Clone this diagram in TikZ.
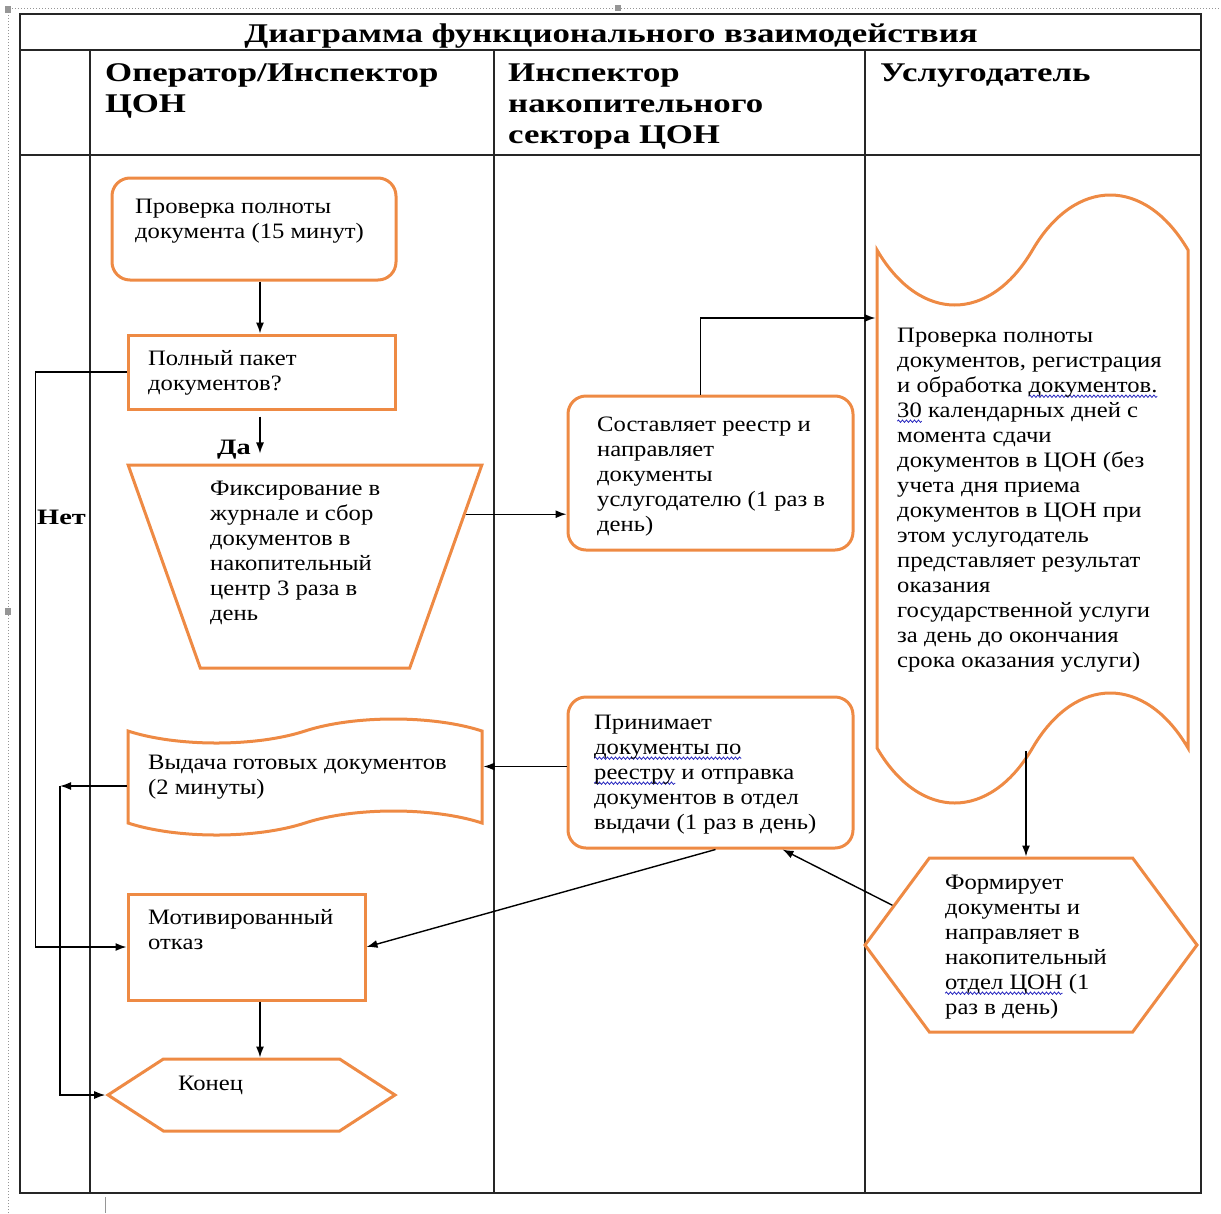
\documentclass[tikz,border=0pt]{standalone}
\usepackage{fontspec}
\setmainfont{Liberation Serif}[FakeStretch=1.12, BoldFeatures={FakeStretch=1.29}]
\usetikzlibrary{arrows.meta,shapes.geometric,shapes.symbols,decorations.pathmorphing}
\definecolor{boxorange}{RGB}{238,138,68}
\definecolor{spellblue}{RGB}{40,40,190}
\definecolor{framegray}{RGB}{150,150,150}
\newcommand\bodyfont{\fontsize{22}{25}\selectfont}
\newcommand\headfont{\fontsize{27}{31}\selectfont\bfseries}
\newcommand\titlefont{\fontsize{27}{30}\selectfont\bfseries}
\newsavebox\spellbox
\newcommand\spellmark[1]{\sbox\spellbox{#1}\rlap{\tikz[overlay, x=1pt, y=1pt]\draw[spellblue, line width=0.8pt, decorate, decoration={snake, amplitude=1.2pt, segment length=4pt}] (0,-4) -- (\the\wd\spellbox,-4);}\usebox\spellbox}
\tikzset{
  lane/.style={line width=1.6pt, black!85},
  shapeline/.style={draw=boxorange, line width=3pt, inner sep=0pt},
  plainbox/.style={shapeline, rectangle},
  roundbox/.style={shapeline, rectangle, rounded corners=18pt},
  hexbox/.style={shapeline, signal, signal to=east and west},
  tapebox/.style={shapeline, tape},
  txt/.style={anchor=north west, inner sep=0pt, align=left, font=\bodyfont},
  head/.style={anchor=north west, inner sep=0pt, align=left, font=\headfont},
  arr/.style={-{Latex[length=11pt,width=8pt]}, line width=1.4pt},
}

\begin{document}
\begin{tikzpicture}[x=1pt, y=-1pt]
\useasboundingbox (0,0) rectangle (1221,1213);
% Canvas frame
\draw[framegray, dotted, line width=1pt] (8,1213) -- (8,8) -- (1221,8);
\fill[framegray] (5,6) rectangle (11,13);
\fill[framegray] (615,5) rectangle (621,11);
\fill[framegray] (5,608) rectangle (11,615);
\draw[framegray, line width=1pt] (105,1197) -- (105,1213);
% Table
\draw[lane] (20,14) rectangle (1201,1193);
\draw[lane] (20,50) -- (1201,50);
\draw[lane] (20,155) -- (1201,155);
\draw[lane] (90,50) -- (90,1193);
\draw[lane] (494,50) -- (494,1193);
\draw[lane] (865,50) -- (865,1193);
\node[font=\titlefont, anchor=base, inner sep=0pt] (title) at (611,42) {Диаграмма функционального взаимодействия};
\node[head] (laneOper) at (105,60) {\strut Оператор/Инспектор\\ЦОН};
\node[head] (laneNak) at (508,60) {\strut Инспектор\\накопительного\\сектора ЦОН};
\node[head] (laneUsl) at (880,60) {\strut Услугодатель};

% Operator lane
\node[roundbox, minimum width=284, minimum height=102] (chk) at (254,229) {};
\node[txt] (chkText) at (135,195.5) {\strut Проверка полноты\\документа (15 минут)};
\node[plainbox, minimum width=267, minimum height=74] (full) at (261.5,372) {};
\node[txt] (fullText) at (148,347.5) {\strut Полный пакет\\документов?};
\node[shapeline, trapezium, inner sep=6pt, trapezium angle=71, shape border rotate=180,
  trapezium stretches=true, minimum width=354, minimum height=203] (fix) at (305,566.5) {};
\node[txt] (fixText) at (210,477.5) {\strut Фиксирование в\\журнале и сбор\\документов в\\накопительный\\центр 3 раза в\\день};
\node[tapebox, tape bend height=24, minimum width=354, minimum height=116] (vyd) at (305,777) {};
\node[txt] (vydText) at (148,751.5) {\strut Выдача готовых документов\\(2 минуты)};
\node[plainbox, minimum width=237, minimum height=106] (motiv) at (246.5,947) {};
\node[txt] (motivText) at (148,906.5) {\strut Мотивированный\\отказ};
\node[hexbox, signal pointer angle=66, minimum width=287, minimum height=72] (konec) at (251.5,1095) {};
\node[txt] (konecText) at (178,1072.5) {\strut Конец};

% Accumulating sector lane
\node[roundbox, minimum width=285, minimum height=154] (sost) at (710.5,473) {};
\node[txt] (sostText) at (597,413.5) {\strut Составляет реестр и\\направляет\\документы\\услугодателю (1 раз в\\день)};
\node[roundbox, minimum width=285, minimum height=151] (prin) at (710.5,772.5) {};
\node[txt] (prinText) at (594,711.5) {\strut Принимает\\\spellmark{документы по}\\\spellmark{реестру} и отправка\\документов в отдел\\выдачи (1 раз в день)};

% Service provider lane
\node[tapebox, tape bend height=110, minimum width=311, minimum height=608] (proc) at (1032.5,499) {};
\node[txt] (procText) at (897,324.5) {\strut Проверка полноты\\документов, регистрация\\и обработка \spellmark{документов.}\\\spellmark{30} календарных дней с\\момента сдачи\\документов в ЦОН (без\\учета дня приема\\документов в ЦОН при\\этом услугодатель\\представляет результат\\оказания\\государственной услуги\\за день до окончания\\срока оказания услуги)};
\node[hexbox, signal pointer angle=107, minimum width=332, minimum height=174] (form) at (1031,945) {};
\node[txt] (formText) at (945,871.5) {\strut Формирует\\документы и\\направляет в\\накопительный\\\spellmark{отдел ЦОН} (1\\раз в день)};

% Connectors
\draw[arr] (chk.south -| 260,0) -- (full.north -| 260,0);
\draw[arr, shorten <=6pt, shorten >=10pt] (full.south -| 260,0) -- (fix.north -| 260,0);
\node[font=\bodyfont\bfseries, anchor=base west, inner sep=0pt] (yes) at (217,454) {Да};
\draw[arr] (full.west) -- ++(-91,0) |- (motiv.west);
\node[font=\bodyfont\bfseries, anchor=base west, inner sep=0pt] (no) at (37,524) {Нет};
\draw[arr] (fix.18) -- (fix.18 -| sost.west);
\draw[arr] ([xshift=-10pt]sost.north) |- ([yshift=181pt]proc.west);
\draw[arr] (proc.south -| 1026,0) -- (form.north -| 1026,0);
\draw[arr] (form.164) -- ([xshift=72pt]prin.south);
\draw[arr] ([yshift=6pt]prin.west) -- ([yshift=6pt]prin.west -| vyd.east);
\draw[arr] ([xshift=5pt]prin.south) -- (motiv.east);
\coordinate (vydLeft) at (60,786);
\draw[arr] ([yshift=-9pt]vyd.west) -- (vydLeft);
\draw[arr] (vydLeft) |- (konec.west);
\draw[arr] ([xshift=13.5pt]motiv.south) -- ([xshift=8.5pt]konec.north);
\end{tikzpicture}
\end{document}
